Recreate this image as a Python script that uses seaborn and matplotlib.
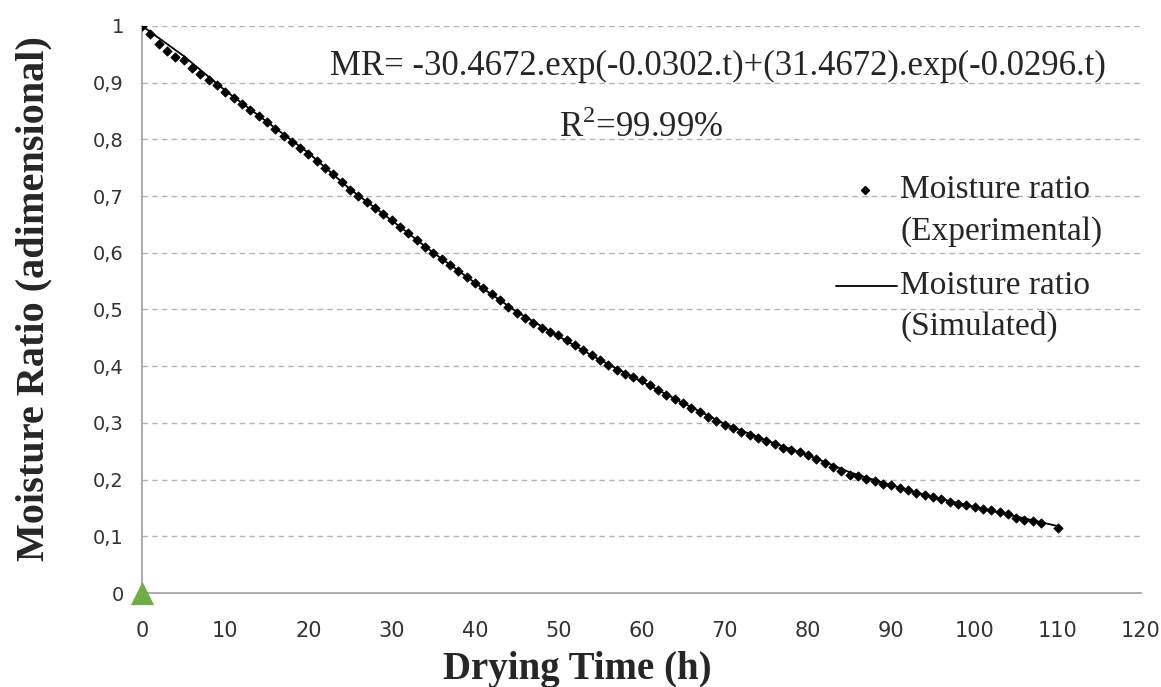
import matplotlib
matplotlib.use("Agg")
import matplotlib.pyplot as plt
import seaborn as sns
import pandas as pd

# ---- data ----
exp_time = list(range(0, 109)) + [110]
exp_mr = [1.000, 0.985, 0.968, 0.955, 0.945, 0.940, 0.925, 0.915, 0.905, 0.895,
          0.884, 0.873, 0.862, 0.852, 0.841, 0.830, 0.818, 0.806, 0.796, 0.785,
          0.775, 0.762, 0.750, 0.739, 0.724, 0.711, 0.700, 0.689, 0.679, 0.668,
          0.658, 0.646, 0.634, 0.623, 0.611, 0.600, 0.589, 0.579, 0.568, 0.557,
          0.547, 0.537, 0.527, 0.517, 0.505, 0.494, 0.485, 0.477, 0.468, 0.461,
          0.455, 0.446, 0.437, 0.428, 0.420, 0.411, 0.402, 0.394, 0.387, 0.381,
          0.376, 0.367, 0.358, 0.350, 0.342, 0.335, 0.327, 0.319, 0.311, 0.303,
          0.296, 0.291, 0.284, 0.279, 0.273, 0.268, 0.262, 0.256, 0.252, 0.248,
          0.244, 0.237, 0.230, 0.223, 0.215, 0.208, 0.206, 0.201, 0.197, 0.193,
          0.190, 0.185, 0.181, 0.177, 0.173, 0.169, 0.166, 0.160, 0.157, 0.155,
          0.152, 0.149, 0.147, 0.143, 0.140, 0.133, 0.128, 0.127, 0.124, 0.115]

sim_time = [0, 5, 10, 15, 20, 25, 30, 35, 40, 45, 50, 55, 60, 65, 70, 75, 80,
            85, 90, 95, 100, 105, 110]
sim_mr = [1.000, 0.947, 0.886, 0.831, 0.776, 0.712, 0.657, 0.600, 0.547, 0.496,
          0.453, 0.411, 0.373, 0.335, 0.298, 0.269, 0.243, 0.213, 0.190, 0.169,
          0.152, 0.135, 0.118]

origin_x = [0]
origin_y = [0]

x_ticks = [0, 10, 20, 30, 40, 50, 60, 70, 80, 90, 100, 110, 120]
y_ticks = [0, 0.1, 0.2, 0.3, 0.4, 0.5, 0.6, 0.7, 0.8, 0.9, 1.0]
y_tick_labels = ["0", "0,1", "0,2", "0,3", "0,4", "0,5", "0,6", "0,7", "0,8", "0,9", "1"]

equation = "MR= -30.4672.exp(-0.0302.t)+(31.4672).exp(-0.0296.t)"
r2_text = "R$^{2}$=99.99%"
label_exp = ["Moisture ratio", "(Experimental)"]
label_sim = ["Moisture ratio", "(Simulated)"]
x_label = "Drying Time (h)"
y_label = "Moisture Ratio (adimensional)"

df_exp = pd.DataFrame({"t": exp_time, "mr": exp_mr})
df_sim = pd.DataFrame({"t": sim_time, "mr": sim_mr})

sns.set_style("white")
plt.rcParams["font.family"] = ["DejaVu Sans"]
plt.rcParams["mathtext.fontset"] = "custom"
plt.rcParams["mathtext.rm"] = "Liberation Serif"
serif = ["Liberation Serif", "DejaVu Serif"]

fig = plt.figure(figsize=(11.61, 6.87), dpi=100)
ax = fig.add_axes([0.1223, 0.1368, 0.8605, 0.8255])

sns.lineplot(data=df_sim, x="t", y="mr", ax=ax, color="black", linewidth=1.3,
             zorder=3, legend=False)
sns.scatterplot(data=df_exp, x="t", y="mr", ax=ax, color="black", marker="D",
                s=22, edgecolor="black", linewidth=0.6, zorder=4, legend=False)
ax.scatter(origin_x, origin_y, marker="^", s=280, color="#70ad47", zorder=5,
           clip_on=False, linewidths=0)

ax.set_xlim(0, 120)
ax.set_ylim(0, 1)
ax.set_xticks(x_ticks)
ax.set_yticks(y_ticks)
ax.set_yticklabels(y_tick_labels)

for y in y_ticks[1:]:
    ax.axhline(y, color="#b4b4b4", linestyle=(0, (4, 3)), linewidth=1, zorder=1)

for s in ["top", "right"]:
    ax.spines[s].set_visible(False)
for s in ["left", "bottom"]:
    ax.spines[s].set_color("#a6a6a6")
    ax.spines[s].set_linewidth(1.3)

ax.tick_params(axis="x", direction="out", length=10, width=1.3, color="#a6a6a6",
               labelsize=15, labelcolor="#333333", pad=10)
ax.tick_params(axis="y", direction="out", length=9, width=1, color="#c8c8c8",
               labelsize=14, labelcolor="#333333", pad=4)

ax.set_xlabel(x_label, fontsize=28, fontweight="bold", family=serif)
ax.set_ylabel(y_label, fontsize=29, fontweight="bold", family=serif)
ax.xaxis.set_label_coords(0.436, -0.103)
ax.yaxis.set_label_coords(-0.09, 0.52)

ax.text(0.577, 0.929, equation, transform=ax.transAxes, fontsize=25, family=serif,
        ha="center", va="center")
ax.text(0.50, 0.82, r2_text, transform=ax.transAxes, fontsize=25, family=serif,
        ha="center", va="center")

# manual legend (handles aligned with the first line of each label)
tx = 0.759
ax.text(tx, 0.711, label_exp[0], transform=ax.transAxes, fontsize=24, family=serif, va="center")
ax.text(tx, 0.637, label_exp[1], transform=ax.transAxes, fontsize=24, family=serif, va="center")
ax.text(tx, 0.541, label_sim[0], transform=ax.transAxes, fontsize=24, family=serif, va="center")
ax.text(tx, 0.471, label_sim[1], transform=ax.transAxes, fontsize=24, family=serif, va="center")
ax.plot([0.724], [0.711], transform=ax.transAxes, marker="D", markersize=4,
        color="black", linestyle="none")
ax.plot([0.695, 0.756], [0.541, 0.541], transform=ax.transAxes, color="black",
        linewidth=1.3)

fig.savefig("out.png", dpi=100)
